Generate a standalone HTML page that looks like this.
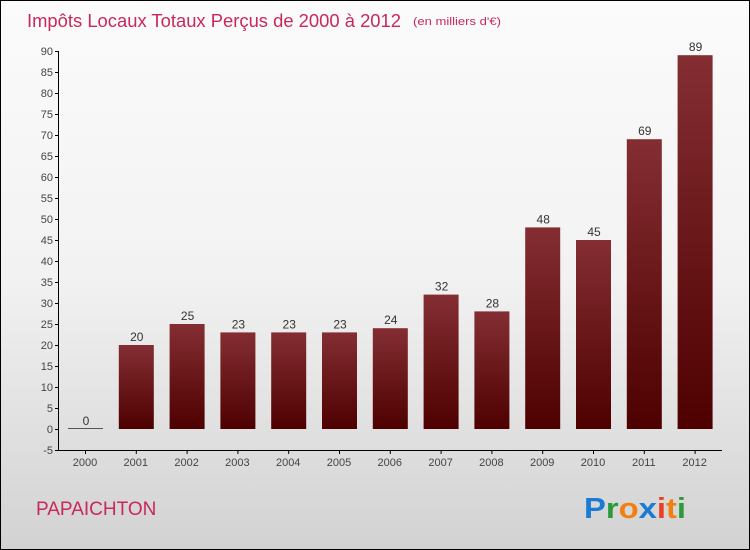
<!DOCTYPE html>
<html><head><meta charset="utf-8"><style>
body{margin:0}
#wrap{position:relative;width:748px;height:548px;border:1px solid #000;background:linear-gradient(#fbfbfb,#f2f2f2 50%,#d2d2d2);font-family:"Liberation Sans",sans-serif;overflow:hidden}
</style></head><body>
<div id="wrap">
<svg id="chart" width="748" height="548"></svg>
</div>
<script>
const years=["2000","2001","2002","2003","2004","2005","2006","2007","2008","2009","2010","2011","2012"];
const values=[0,20,25,23,23,23,24,32,28,48,45,69,89];
const yTicks=[-5,0,5,10,15,20,25,30,35,40,45,50,55,60,65,70,75,80,85,90];
const NS="http://www.w3.org/2000/svg";
const svg=document.getElementById('chart');
function y(v){return 428-(v)*4.2;}
function x(i){return 84+i*50.8;}
function mk(t,a,txt){const e=document.createElementNS(NS,t);for(const k in a)e.setAttribute(k,a[k]);if(txt!==undefined)e.textContent=txt;svg.appendChild(e);return e;}
const defs=mk('defs',{});
const g=document.createElementNS(NS,'linearGradient');g.setAttribute('id','bg');g.setAttribute('x1','0');g.setAttribute('y1','0');g.setAttribute('x2','0');g.setAttribute('y2','1');
g.innerHTML='<stop offset="0" stop-color="#842e33"/><stop offset="1" stop-color="#4e0000"/>';defs.appendChild(g);
let t=mk('text',{x:26,y:26,'font-size':18,fill:'#c8285a',textLength:374,lengthAdjust:'spacingAndGlyphs'},'Impôts Locaux Totaux Perçus de 2000 à 2012');

t=mk('text',{x:412,y:24,'font-size':11,fill:'#c8285a',textLength:88,lengthAdjust:'spacingAndGlyphs'},'(en milliers d\'€)');

let ax=mk('line',{x1:57.5,y1:y(90),x2:57.5,y2:y(-5),stroke:'#000'});

yTicks.forEach(v=>{
 mk('line',{x1:54,x2:58,y1:y(v)+.5,y2:y(v)+.5,stroke:'#000'});
 const l=mk('text',{x:52,y:y(v)+4,'font-size':11,fill:'#444','text-anchor':'end'},v);
 
});
ax=mk('line',{x1:58,y1:y(-5)+.5,x2:721,y2:y(-5)+.5,stroke:'#000'});

years.forEach((yr,i)=>{
 const cx=x(i),v=values[i];
 mk('line',{x1:cx+.5,x2:cx+.5,y1:y(-5),y2:y(-5)+4,stroke:'#000'});
 const l=mk('text',{x:cx,y:y(-5)+16,'font-size':11,fill:'#444','text-anchor':'middle'},yr);
 
 const h=Math.max(v*4.2,1);
 const b=mk('rect',{x:cx-17,y:y(0)-h,width:35,height:h,fill:v===0?'#555':'url(#bg)'});
 
 const vl=mk('text',{x:cx+1,y:y(v)-4,'font-size':12,fill:'#333','text-anchor':'middle'},v);
 
});
t=mk('text',{x:35,y:514,'font-size':19,fill:'#c8285a'},'PAPAICHTON');

const logo=mk('text',{x:583,y:517,'font-size':29,'font-weight':'bold',textLength:102,lengthAdjust:'spacingAndGlyphs'});

logo.innerHTML='<tspan fill="#1a7ad4">P</tspan><tspan fill="#2a9a3a">r</tspan><tspan fill="#f08010">o</tspan><tspan fill="#1a7ad4">x</tspan><tspan fill="#e84020">i</tspan><tspan fill="#f08010">t</tspan><tspan fill="#2a9a3a">i</tspan>';
</script>
</body></html>
